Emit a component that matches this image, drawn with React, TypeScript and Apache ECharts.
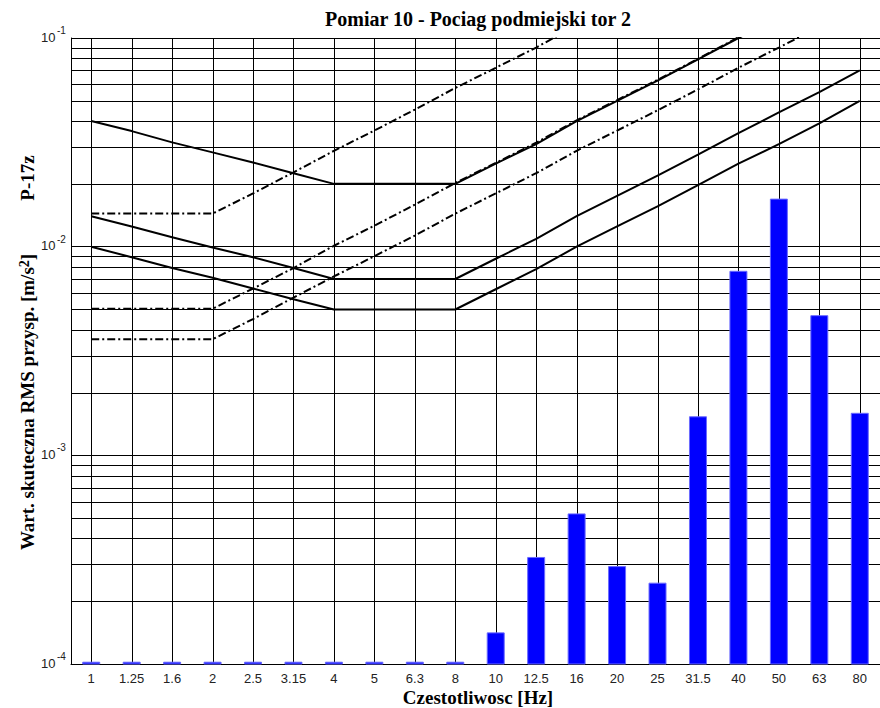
import React, { useEffect, useRef } from "react";
import * as echarts from "echarts";

// One-third octave band centre frequencies [Hz]
const FREQ_LABELS = [
  "1", "1.25", "1.6", "2", "2.5", "3.15", "4", "5", "6.3", "8",
  "10", "12.5", "16", "20", "25", "31.5", "40", "50", "63", "80",
];

// Measured RMS acceleration per band [m/s^2]
const RMS_VALUES = [
  1.02e-4, 1.02e-4, 1.02e-4, 1.02e-4, 1.02e-4, 1.02e-4, 1.02e-4, 1.02e-4, 1.02e-4, 1.02e-4,
  1.41e-4, 3.24e-4, 5.24e-4, 2.93e-4, 2.44e-4, 1.53e-3, 7.62e-3, 1.69e-2, 4.67e-3, 1.59e-3,
];

// Limit curves, vertical direction (solid)
const Z_LIMIT_1 = [
  0.01, 0.0089, 0.0079, 0.0071, 0.0063, 0.0056, 0.005, 0.005, 0.005, 0.005,
  0.00625, 0.0078, 0.01, 0.0125, 0.0156, 0.0197, 0.025, 0.031, 0.039, 0.05,
];
const Z_LIMIT_2 = [
  0.014, 0.0125, 0.0111, 0.0099, 0.0089, 0.0079, 0.007, 0.007, 0.007, 0.007,
  0.00875, 0.0109, 0.014, 0.0175, 0.0219, 0.0276, 0.035, 0.044, 0.055, 0.07,
];
const Z_LIMIT_3 = [
  0.04, 0.0358, 0.0316, 0.0283, 0.0253, 0.0225, 0.02, 0.02, 0.02, 0.02,
  0.025, 0.031, 0.04, 0.05, 0.0625, 0.079, 0.1, 0.125, 0.158, 0.2,
];

// Limit curves, horizontal directions (dash-dot)
const XY_LIMIT_1 = [
  0.0036, 0.0036, 0.0036, 0.0036, 0.0045, 0.0057, 0.0072, 0.009, 0.0113, 0.0144,
  0.018, 0.0225, 0.0288, 0.036, 0.045, 0.0567, 0.072, 0.09, 0.113, 0.144,
];
const XY_LIMIT_2 = [
  0.00504, 0.00504, 0.00504, 0.00504, 0.0063, 0.0079, 0.0101, 0.0126, 0.0159, 0.0202,
  0.0252, 0.0315, 0.0403, 0.0504, 0.063, 0.0794, 0.1008, 0.126, 0.159, 0.2016,
];
const XY_LIMIT_3 = [
  0.0144, 0.0144, 0.0144, 0.0144, 0.018, 0.0227, 0.0288, 0.036, 0.0454, 0.0576,
  0.072, 0.09, 0.1152, 0.144, 0.18, 0.227, 0.288, 0.36, 0.454, 0.576,
];

// Log axis range, decade tick values and the intermediate grid lines
const Y_MIN = 1e-4;
const Y_MAX = 1e-1;
const Y_TICKS = [1e-4, 1e-3, 1e-2, 1e-1];
const MINOR_GRID = [
  2e-4, 3e-4, 4e-4, 5e-4, 6e-4, 7e-4, 8e-4, 9e-4,
  2e-3, 3e-3, 4e-3, 5e-3, 6e-3, 7e-3, 8e-3, 9e-3,
  2e-2, 3e-2, 4e-2, 5e-2, 6e-2, 7e-2, 8e-2, 9e-2,
];

const SANS = "'Liberation Sans', Arial, sans-serif";
const SERIF = "'Liberation Serif', 'Times New Roman', serif";
const DASH_DOT = [8, 3, 2, 3];

export default function App() {
  const ref = useRef<HTMLDivElement>(null);

  useEffect(() => {
    if (!ref.current) return;
    const chart = echarts.init(ref.current, null, { renderer: "svg" });

    const limitLine = (name: string, data: number[], dashed: boolean) => ({
      name,
      type: "line",
      data,
      z: 3,
      showSymbol: false,
      symbol: "none",
      silent: true,
      clip: true,
      lineStyle: { color: "#000", width: 2, type: dashed ? DASH_DOT : "solid" },
      emphasis: { disabled: true },
    });

    const titleText = (text: string, x: number, y: number, size: number, rotated: boolean) => ({
      type: "text",
      x,
      y,
      rotation: rotated ? Math.PI / 2 : 0,
      style: {
        text,
        fontFamily: SERIF,
        fontSize: size,
        fontWeight: "bold",
        fill: "#000",
        align: "center",
        verticalAlign: "middle",
      },
    });

    chart.setOption({
      animation: false,
      backgroundColor: "#fff",
      grid: { left: 71, top: 38, width: 817, height: 626, containLabel: false },
      xAxis: {
        type: "category",
        data: FREQ_LABELS,
        boundaryGap: true,
        axisLine: { show: true, lineStyle: { color: "#000", width: 1 } },
        axisTick: { show: false },
        splitLine: { show: false },
        axisLabel: {
          margin: 8,
          fontSize: 13,
          fontFamily: SANS,
          color: "#222",
          interval: 0,
        },
      },
      yAxis: {
        type: "log",
        logBase: 10,
        min: Y_MIN,
        max: Y_MAX,
        axisLine: { show: true, lineStyle: { color: "#000", width: 1 } },
        axisTick: { show: false },
        splitLine: { show: true, lineStyle: { color: "#000", width: 1 } },
        axisLabel: { show: false },
      },
      graphic: [
        titleText("Pomiar 10 - Pociag podmiejski tor 2", 478, 19, 20, false),
        titleText("Czestotliwosc [Hz]", 478, 697, 19, false),
        titleText("P-17z", 27, 178, 19, true),
        {
          type: "text",
          x: 27,
          y: 402,
          rotation: Math.PI / 2,
          style: {
            text: "{a|Wart. skuteczna RMS przysp. [m/s}{s|2}{a|]}",
            align: "center",
            verticalAlign: "middle",
            rich: {
              a: { fontFamily: SERIF, fontSize: 19, fontWeight: "bold", fill: "#000", lineHeight: 19, verticalAlign: "bottom" },
              s: {
                fontFamily: SERIF,
                fontSize: 14,
                fontWeight: "bold",
                fill: "#000",
                lineHeight: 14,
                padding: [0, 0, 10, 0],
                verticalAlign: "top",
              },
            },
          },
        },
      ],
      series: [
        {
          name: "minor-grid",
          type: "custom",
          z: 1,
          silent: true,
          data: MINOR_GRID.map((v) => [0, v]),
          encode: { x: 0, y: 1 },
          renderItem: (params: any, api: any) => {
            const cs = params.coordSys;
            const y = Math.round(api.coord([0, api.value(1)])[1]) + 0.5;
            return {
              type: "line",
              shape: { x1: cs.x, y1: y, x2: cs.x + cs.width, y2: y },
              style: { stroke: "#000", lineWidth: 1 },
            };
          },
        },
        {
          name: "band-grid",
          type: "custom",
          z: 1,
          silent: true,
          data: FREQ_LABELS.map((_, i) => [i, Y_MIN]),
          encode: { x: 0, y: 1 },
          renderItem: (params: any, api: any) => {
            const cs = params.coordSys;
            const x = Math.round(api.coord([api.value(0), Y_MIN])[0]) + 0.5;
            return {
              type: "line",
              shape: { x1: x, y1: cs.y, x2: x, y2: cs.y + cs.height },
              style: { stroke: "#000", lineWidth: 1 },
            };
          },
        },
        {
          // decade labels of the log axis written as 10 with a raised exponent
          name: "y-tick-labels",
          type: "custom",
          z: 4,
          silent: true,
          data: Y_TICKS.map((v) => [0, v]),
          encode: { x: 0, y: 1 },
          renderItem: (params: any, api: any) => {
            const cs = params.coordSys;
            const v = api.value(1);
            const y = api.coord([0, v])[1];
            const exp = Math.round(Math.log10(v));
            const xr = cs.x - 15.5;
            return {
              type: "group",
              children: [
                {
                  type: "text",
                  x: xr,
                  y: y - 1,
                  style: {
                    text: "10",
                    font: `13px ${SANS}`,
                    fill: "#222",
                    align: "right",
                    verticalAlign: "middle",
                  },
                },
                {
                  type: "text",
                  x: xr + 1.5,
                  y: y - 7.5,
                  style: {
                    text: String(exp),
                    font: `10px ${SANS}`,
                    fill: "#222",
                    align: "left",
                    verticalAlign: "middle",
                  },
                },
              ],
            };
          },
        },
        {
          name: "RMS",
          type: "custom",
          z: 2,
          silent: true,
          data: RMS_VALUES.map((v, i) => [i, v]),
          encode: { x: 0, y: 1 },
          renderItem: (_params: any, api: any) => {
            const i = api.value(0);
            const v = api.value(1);
            const top = api.coord([i, v]);
            const base = api.coord([i, Y_MIN]);
            const band = api.coord([1, v])[0] - api.coord([0, v])[0];
            const w = band * 0.42;
            return {
              type: "rect",
              shape: { x: top[0] - w / 2, y: top[1], width: w, height: base[1] - top[1] },
              style: { fill: "#0000ff", stroke: "#6a6aff", lineWidth: 1 },
            };
          },
        },
        limitLine("z1", Z_LIMIT_1, false),
        limitLine("z2", Z_LIMIT_2, false),
        limitLine("z3", Z_LIMIT_3, false),
        limitLine("xy1", XY_LIMIT_1, true),
        limitLine("xy2", XY_LIMIT_2, true),
        limitLine("xy3", XY_LIMIT_3, true),
      ],
    });

    return () => chart.dispose();
  }, []);

  return (
    <div
      ref={ref}
      style={{ position: "absolute", left: 0, top: 0, width: 880, height: 708, background: "#fff" }}
    />
  );
}
